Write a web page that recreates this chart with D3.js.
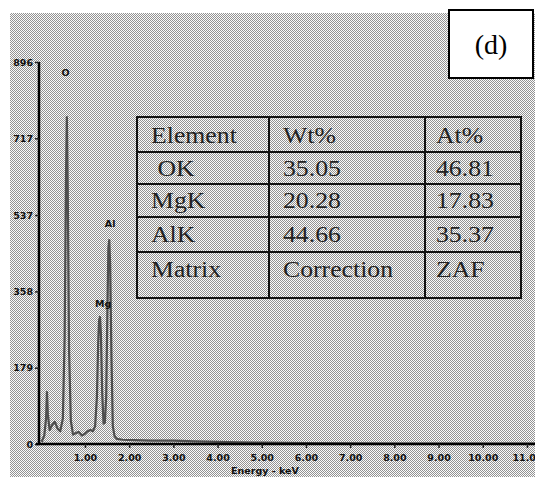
<!DOCTYPE html>
<html>
<head>
<meta charset="utf-8">
<script src="https://d3js.org/d3.v7.min.js"></script>
<style>
  body { margin:0; background:#fff; }
  svg { display:block; }
  .tick-lbl { font-family:"DejaVu Sans", sans-serif; font-weight:bold; font-size:9.5px; fill:#111; }
  .tbl { font-family:"Liberation Serif", "Times New Roman", serif; font-size:23px; fill:#222; }
</style>
</head>
<body>
<div id="canvas"></div>
<script>
// spectrum (energy in keV, counts)
var energy = [0.02,0.08,0.12,0.14,0.16,0.2,0.26,0.32,0.38,0.44,0.5,0.54,0.57,0.59,0.61,0.64,0.68,0.73,0.8,0.86,0.93,1.0,1.06,1.12,1.18,1.23,1.27,1.3,1.32,1.34,1.36,1.39,1.42,1.45,1.48,1.51,1.53,1.55,1.57,1.6,1.63,1.67,1.72,1.85,2.1,2.5,3.0,3.5,4.0,4.5,5.0,6.0,8.0,10.0,11.3];
var counts = [5,20,60,122,70,33,45,52,36,30,60,250,620,767,600,220,55,22,26,28,20,24,30,33,30,42,110,240,290,298,260,120,48,50,110,330,460,478,420,200,42,18,12,10,9,8,8,6,5,4,3,2,1,1,1];

var yTicks = [0,179,358,537,717,896];
var xTicks = [1,2,3,4,5,6,7,8,9,10,11];

var peakNames = ['O','Mg','Al'];
var peakE = [0.56,1.41,1.57];
var peakCount = [862,322,508];

var tblHead = ['Element','Wt%','At%'];
var tblElem = [' OK','MgK','AlK','Matrix'];
var tblWt = ['35.05','20.28','44.66','Correction'];
var tblAt = ['46.81','17.83','35.37','ZAF'];

var W = 535, H = 477;
var svg = d3.select('#canvas').append('svg')
    .attr('width',W).attr('height',H);

// dithered grey background
var defs = svg.append('defs');
var pat = defs.append('pattern').attr('id','dith')
    .attr('width',2).attr('height',2).attr('patternUnits','userSpaceOnUse');
pat.append('rect').attr('width',2).attr('height',2).attr('fill','#fbfbfb');
pat.append('rect').attr('x',0).attr('y',0).attr('width',1).attr('height',1).attr('fill','#939393');
pat.append('rect').attr('x',1).attr('y',1).attr('width',1).attr('height',1).attr('fill','#939393');
svg.append('rect').attr('x',10).attr('y',13).attr('width',W-10).attr('height',H-13)
    .attr('fill','url(#dith)').attr('shape-rendering','crispEdges');

var x = d3.scaleLinear().domain([-0.04,11.25]).range([39,538]);
var y = d3.scaleLinear().domain([0,896]).range([444,62]);

// spectrum
var pts = energy.map(function(e,i){ return [e, counts[i]]; });
var line = d3.line()
    .x(function(d){ return x(d[0]); })
    .y(function(d){ return y(d[1]); });
svg.append('path').datum(pts)
    .attr('d',line)
    .attr('fill','none')
    .attr('stroke','#4e4e4e')
    .attr('stroke-width',2.2)
    .attr('stroke-linejoin','round');

// axes
var axisY = d3.axisLeft(y).tickValues(yTicks).tickSize(4).tickPadding(2)
    .tickFormat(d3.format('d'));
var gy = svg.append('g').attr('transform','translate(39,0)').call(axisY);
var axisX = d3.axisBottom(x).tickValues(xTicks).tickSize(4).tickPadding(6)
    .tickFormat(d3.format('.2f'));
var gx = svg.append('g').attr('transform','translate(0,444)').call(axisX);
[gx,gy].forEach(function(g){
    g.select('.domain').attr('stroke','#000').attr('stroke-width',2.5);
    g.selectAll('.tick line').attr('stroke','#222').attr('stroke-width',1.5);
    g.selectAll('.tick text').attr('class','tick-lbl').attr('fill','#111');
});
gy.select('.domain').attr('d','M0,' + y(896) + 'V' + (y(0)+1));
gx.select('.domain').attr('d','M36,0H' + W);

svg.append('text').attr('class','tick-lbl')
    .attr('x',265).attr('y',474).attr('text-anchor','middle')
    .text('Energy - keV');

// peak labels
svg.selectAll('.peak').data(peakNames).enter().append('text')
    .attr('class','tick-lbl')
    .attr('x',function(d,i){ return x(peakE[i]); })
    .attr('y',function(d,i){ return y(peakCount[i]); })
    .attr('text-anchor','middle')
    .text(function(d){ return d; });

// table
var tx = 137, tw = 384;
var colX = [137,269,425,521];
var rowY = [117,152,184,217,252,298];
var tbl = svg.append('g');
tbl.append('rect').attr('x',tx).attr('y',rowY[0]).attr('width',tw).attr('height',rowY[5]-rowY[0])
    .attr('fill','none').attr('stroke','#111').attr('stroke-width',2);
rowY.slice(1,5).forEach(function(ry){
    tbl.append('line').attr('x1',tx).attr('x2',tx+tw).attr('y1',ry).attr('y2',ry)
        .attr('stroke','#111').attr('stroke-width',2);
});
colX.slice(1,3).forEach(function(cx){
    tbl.append('line').attr('x1',cx).attr('x2',cx).attr('y1',rowY[0]).attr('y2',rowY[5])
        .attr('stroke','#111').attr('stroke-width',2);
});
var rows = [tblHead].concat(tblElem.map(function(e,i){ return [e, tblWt[i], tblAt[i]]; }));
var base = [143,176,208,242,277];
var textX = [151,283,436];
rows.forEach(function(r,ri){
    r.forEach(function(t,ci){
        tbl.append('text').attr('class','tbl')
            .attr('transform','translate(' + textX[ci] + ',' + base[ri] + ') scale(1.12,1)')
            .attr('xml:space','preserve')
            .style('white-space','pre')
            .text(t);
    });
});

// (d) label box
svg.append('rect').attr('x',449).attr('y',10).attr('width',84).attr('height',68)
    .attr('fill','#fff').attr('stroke','#000').attr('stroke-width',2);
svg.append('text').attr('x',491).attr('y',54).attr('text-anchor','middle')
    .style('font-family','"Liberation Serif", serif').style('font-size','28px')
    .text('(d)');
</script>
</body>
</html>
